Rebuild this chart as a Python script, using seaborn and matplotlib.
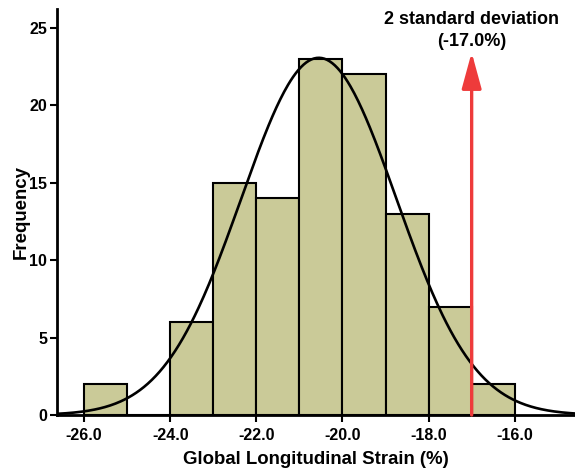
import numpy as np
import pandas as pd
import matplotlib
matplotlib.use("Agg")
import matplotlib.pyplot as plt
import seaborn as sns

# ---- data ----
bin_edges = [-26, -25, -24, -23, -22, -21, -20, -19, -18, -17, -16]
counts = [2, 0, 6, 15, 14, 23, 22, 13, 7, 2]
fit_mean = -20.55
fit_sd = 1.80
sd_line_x = -17.0
x_ticks = [-26, -24, -22, -20, -18, -16]
y_ticks = [0, 5, 10, 15, 20, 25]
annot_text = "2 standard deviation\n(-17.0%)"

sns.set_style("white")
plt.rcParams['font.family'] = ['Liberation Sans', 'DejaVu Sans']
plt.rcParams['axes.unicode_minus'] = False
plt.rcParams['text.color'] = 'black'
plt.rcParams['axes.labelcolor'] = 'black'
plt.rcParams['xtick.color'] = 'black'
plt.rcParams['ytick.color'] = 'black'

centers = [(a + b) / 2 for a, b in zip(bin_edges[:-1], bin_edges[1:])]
df = pd.DataFrame({"gls": centers, "n": counts})

fig = plt.figure(figsize=(5.75, 4.70), dpi=100)
ax = fig.add_axes([57 / 575, 55 / 470, 518 / 575, 406 / 470])

sns.histplot(data=df, x="gls", weights="n", bins=bin_edges, ax=ax,
             color="#CACA98", edgecolor="black", linewidth=1.5, alpha=1.0,
             zorder=2)

ax.set_xlim(-26.63, -14.6)
ax.set_ylim(0, 26.2)

# fitted normal curve
N = sum(counts)
bw = bin_edges[1] - bin_edges[0]
xs = np.linspace(-26.63, -14.6, 400)
ys = N * bw / (fit_sd * np.sqrt(2 * np.pi)) * np.exp(-0.5 * ((xs - fit_mean) / fit_sd) ** 2)
ax.plot(xs, ys, color="black", lw=1.9, zorder=3)

# red arrow at 2 SD
ax.annotate("", xy=(sd_line_x, 23.4), xytext=(sd_line_x, 0),
            arrowprops=dict(arrowstyle="-|>,head_length=1.1,head_width=0.3",
                            color="#EE3B3B", lw=2.4, shrinkA=0, shrinkB=0,
                            mutation_scale=20),
            zorder=4)
ax.text(sd_line_x, 24.8, annot_text, ha="center", va="center",
        fontsize=13, fontweight="bold", linespacing=1.35, zorder=5)

ax.set_xticks(x_ticks)
ax.set_xticklabels([f"{t:.1f}" for t in x_ticks])
ax.set_yticks(y_ticks)
ax.set_yticklabels([str(t) for t in y_ticks])
for lab in ax.get_xticklabels() + ax.get_yticklabels():
    lab.set_fontweight("bold")
    lab.set_fontsize(11.5)

ax.set_xlabel("Global Longitudinal Strain (%)", fontsize=13.4, fontweight="bold", labelpad=6)
ax.set_ylabel("Frequency", fontsize=13.4, fontweight="bold", labelpad=0)

for s in ["top", "right"]:
    ax.spines[s].set_visible(False)
for s in ["left", "bottom"]:
    ax.spines[s].set_linewidth(2)
    ax.spines[s].set_color("black")
ax.tick_params(axis="x", direction="out", length=5, width=1.5, color="black",
               bottom=True, pad=4)
ax.tick_params(axis="y", direction="out", length=5, width=1.5, color="black",
               left=True, pad=2)

fig.savefig("out.png", dpi=100)
